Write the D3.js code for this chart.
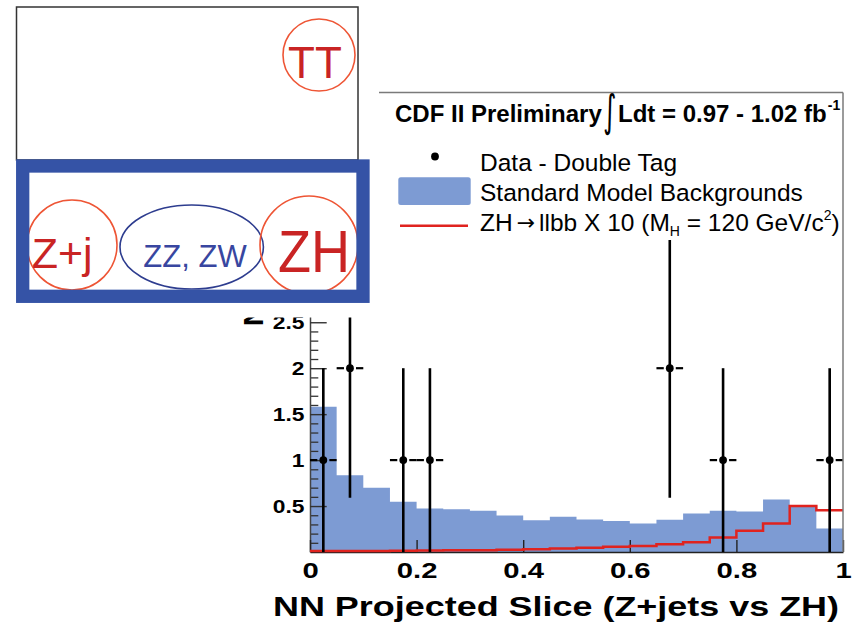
<!DOCTYPE html>
<html>
<head>
<meta charset="utf-8">
<script src="https://cdn.jsdelivr.net/npm/d3@7"></script>
<style>
  html, body { margin: 0; padding: 0; background: #fff; }
  svg { display: block; }
</style>
</head>
<body>
<svg id="chart" width="853" height="631"></svg>
<script>
// ---- data ----
const binEdges = [0, 0.05, 0.1, 0.15, 0.2, 0.25, 0.3, 0.35, 0.4, 0.45, 0.5,
                  0.55, 0.6, 0.65, 0.7, 0.75, 0.8, 0.85, 0.9, 0.95, 1.0];
// Standard Model backgrounds (stacked total), per bin
const background = [1.58, 0.835, 0.70, 0.548, 0.474, 0.464, 0.45, 0.396, 0.345, 0.383,
                    0.355, 0.338, 0.31, 0.35, 0.42, 0.45, 0.44, 0.57, 0.50, 0.256];
// ZH -> llbb signal x 10, per bin
const signal = [0.01, 0.01, 0.012, 0.014, 0.016, 0.018, 0.02, 0.024, 0.03, 0.038,
                0.045, 0.058, 0.066, 0.085, 0.107, 0.157, 0.23, 0.31, 0.50, 0.455];
// double-tag data
const dataX      = [0.025, 0.075, 0.175, 0.225, 0.675, 0.775, 0.975];
const dataY      = [1, 2, 1, 1, 2, 1, 1];
const dataErrLow = [1, 1.41, 1, 1, 1.41, 1, 1];
const dataErrHigh= [1, 1.41, 1, 1, 1.41, 1, 1];
const dataXErr   = [0.025, 0.025, 0.025, 0.025, 0.025, 0.025, 0.025];

const xTickValues = [0, 0.2, 0.4, 0.6, 0.8, 1];
const xTickLabels = ["0", "0.2", "0.4", "0.6", "0.8", "1"];
const yTickValues = [0.5, 1, 1.5, 2, 2.5];
const yTickLabels = ["0.5", "1", "1.5", "2", "2.5"];

const FONT = "'Liberation Sans', Arial, Helvetica, sans-serif";
const BLUE_FILL = "#7d9bd3";
const RED = "#e0231f";

const svg = d3.select("#chart");

const x = d3.scaleLinear().domain([0, 1]).range([310, 843]);
const y = d3.scaleLinear().domain([0, 5]).range([552, 92.5]);

function steps(values) {
  const pts = [];
  values.forEach((v, i) => { pts.push([binEdges[i], v]); pts.push([binEdges[i + 1], v]); });
  return pts;
}

// ---- background histogram ----
svg.append("path")
  .datum(steps(background))
  .attr("d", d3.area().x(d => x(d[0])).y0(y(0)).y1(d => y(d[1])))
  .attr("fill", BLUE_FILL);

// ---- y title (mostly hidden under the diagram panel) ----
svg.append("text")
  .attr("transform", "translate(263,326) rotate(-90)")
  .attr("text-anchor", "start")
  .attr("font-family", FONT).attr("font-weight", "bold").attr("font-size", 28)
  .text("Number of Events");

// ---- y axis: minor ticks ----
const yMinor = d3.range(1, 50).map(i => i / 10).filter(v => Math.round(v * 10) % 5 !== 0);
svg.append("g")
  .attr("transform", `translate(${x(0)},0)`)
  .call(d3.axisLeft(y).tickValues(yMinor).tickSizeInner(-8.3).tickSizeOuter(0).tickFormat(""))
  .call(g => g.select(".domain").remove())
  .call(g => g.selectAll("line").attr("stroke", "#333").attr("stroke-width", 1.3));

// ---- y axis: major ticks + labels ----
svg.append("g")
  .attr("transform", `translate(${x(0)},0)`)
  .call(d3.axisLeft(y).tickValues(yTickValues).tickFormat((d, i) => yTickLabels[i])
        .tickSizeInner(-16.7).tickSizeOuter(0).tickPadding(5.5))
  .call(g => g.select(".domain").attr("stroke", "#444").attr("stroke-width", 1.5))
  .call(g => g.selectAll("line").attr("stroke", "#333").attr("stroke-width", 1.4))
  .call(g => g.selectAll("text")
    .attr("font-family", FONT).attr("font-weight", "bold").attr("font-size", 19)
    .attr("fill", "#000")
    .attr("x", 0)
    .attr("transform", "translate(-5.5,0) scale(1.2,1)"));

// ---- x axis ----
svg.append("g")
  .attr("transform", `translate(0,${y(0)})`)
  .call(d3.axisBottom(x).tickValues(xTickValues).tickFormat((d, i) => xTickLabels[i])
        .tickSizeInner(-12).tickSizeOuter(0).tickPadding(10.5))
  .call(g => g.select(".domain").attr("stroke", "#222").attr("stroke-width", 1.5))
  .call(g => g.selectAll("line").attr("stroke", "#222").attr("stroke-width", 1.4))
  .call(g => g.selectAll("text")
    .attr("font-family", FONT).attr("font-weight", "bold").attr("font-size", 22)
    .attr("fill", "#000")
    .attr("transform", "scale(1.33,1)"));

// x title
svg.append("text")
  .attr("x", 273).attr("y", 615.5)
  .attr("font-family", FONT).attr("font-weight", "bold").attr("font-size", 28)
  .attr("textLength", 566).attr("lengthAdjust", "spacingAndGlyphs")
  .text("NN Projected Slice (Z+jets vs ZH)");

// ---- signal histogram (x10) ----
svg.append("path")
  .datum(steps(signal))
  .attr("d", d3.line().x(d => x(d[0])).y(d => y(d[1])))
  .attr("fill", "none").attr("stroke", RED).attr("stroke-width", 2.5);

// ---- data points with error bars ----
const pts = svg.append("g");
dataX.forEach((cx, i) => {
  const px = x(cx), py = y(dataY[i]);
  pts.append("line")
    .attr("x1", px).attr("x2", px)
    .attr("y1", y(dataY[i] - dataErrLow[i])).attr("y2", y(dataY[i] + dataErrHigh[i]))
    .attr("stroke", "#000").attr("stroke-width", 2.6);
  pts.append("line")
    .attr("x1", x(cx - dataXErr[i])).attr("x2", px - 6)
    .attr("y1", py).attr("y2", py)
    .attr("stroke", "#000").attr("stroke-width", 2.2);
  pts.append("line")
    .attr("x1", px + 6).attr("x2", x(cx + dataXErr[i]))
    .attr("y1", py).attr("y2", py)
    .attr("stroke", "#000").attr("stroke-width", 2.2);
  pts.append("circle").attr("cx", px).attr("cy", py).attr("r", 3.9).attr("fill", "#000");
});

// ---- legend ----
svg.append("rect").attr("x", 379).attr("y", 94).attr("width", 463).attr("height", 146).attr("fill", "#fff");
svg.append("clipPath").attr("id", "legclip")
  .append("rect").attr("x", 379).attr("y", 60).attr("width", 463.5).attr("height", 190);
const leg = svg.append("g").attr("clip-path", "url(#legclip)")
  .attr("font-family", FONT).attr("fill", "#000");

leg.append("text").attr("x", 395).attr("y", 121.5)
  .attr("font-weight", "bold").attr("font-size", 24).text("CDF II Preliminary");
leg.append("text").attr("transform", "translate(610,126) scale(0.75,1.3)")
  .attr("text-anchor", "middle")
  .attr("font-family", "'DejaVu Sans', sans-serif").attr("font-size", 34).text("∫");
const lum = leg.append("text").attr("x", 618).attr("y", 121.5)
  .attr("font-weight", "bold").attr("font-size", 24);
lum.append("tspan").text("Ldt = 0.97 - 1.02 fb");
lum.append("tspan").attr("font-size", 14).attr("dy", -12).attr("dx", 1).text("-1");

leg.append("circle").attr("cx", 435).attr("cy", 156.5).attr("r", 3.9).attr("fill", "#000");
leg.append("text").attr("x", 480).attr("y", 170.5).attr("font-size", 24.5).text("Data - Double Tag");

leg.append("rect").attr("x", 398.3).attr("y", 177.3).attr("width", 72.4).attr("height", 27.7)
  .attr("rx", 2.5).attr("fill", BLUE_FILL);
leg.append("text").attr("x", 480).attr("y", 201).attr("font-size", 24.5).text("Standard Model Backgrounds");

leg.append("line").attr("x1", 400).attr("x2", 468).attr("y1", 225.7).attr("y2", 225.7)
  .attr("stroke", RED).attr("stroke-width", 2.5);
const sig = leg.append("text").attr("x", 480).attr("y", 231).attr("font-size", 24.5);
sig.append("tspan").text("ZH");
sig.append("tspan").attr("font-family", "'DejaVu Sans', sans-serif").attr("font-size", 22)
  .attr("dy", -1).attr("dx", 4).text("→");
sig.append("tspan").attr("dy", 1).attr("dx", 4).text("llbb X 10 (M");
sig.append("tspan").attr("font-size", 14).attr("dy", 5).text("H");
sig.append("tspan").attr("dy", -5).text(" = 120 GeV/c");
sig.append("tspan").attr("font-size", 14).attr("dy", -11).text("2");
sig.append("tspan").attr("dy", 11).text(")");

// ---- frame ----
svg.append("line").attr("x1", 843).attr("x2", 843).attr("y1", 92.5).attr("y2", 552)
  .attr("stroke", "#7a7a7a").attr("stroke-width", 1.5);
svg.append("line").attr("x1", 310).attr("x2", 843).attr("y1", 92.5).attr("y2", 92.5)
  .attr("stroke", "#7a7a7a").attr("stroke-width", 1.5);

// ---- diagram panel (top left) ----
const panel = svg.append("g").attr("font-family", FONT);
panel.append("rect").attr("x", 0).attr("y", 0).attr("width", 379).attr("height", 317.5).attr("fill", "#fff");
panel.append("rect").attr("x", 16.5).attr("y", 7).attr("width", 341.5).attr("height", 153)
  .attr("fill", "none").attr("stroke", "#333").attr("stroke-width", 1.5);
panel.append("circle").attr("cx", 319).attr("cy", 55).attr("r", 36)
  .attr("fill", "none").attr("stroke", "#ee5535").attr("stroke-width", 1.6);
panel.append("text").attr("x", 315).attr("y", 78).attr("text-anchor", "middle")
  .attr("font-size", 44).attr("fill", "#c92424").text("TT");

panel.append("clipPath").attr("id", "boxclip")
  .append("rect").attr("x", 16).attr("y", 159.5).attr("width", 353.5).attr("height", 143);
const inner = panel.append("g").attr("clip-path", "url(#boxclip)");
inner.append("circle").attr("cx", 72).attr("cy", 245).attr("r", 45)
  .attr("fill", "none").attr("stroke", "#ee5535").attr("stroke-width", 1.6);
inner.append("ellipse").attr("cx", 191.7).attr("cy", 247).attr("rx", 71.7).attr("ry", 42)
  .attr("fill", "none").attr("stroke", "#2e3d8f").attr("stroke-width", 1.6);
inner.append("circle").attr("cx", 309).attr("cy", 245).attr("r", 49)
  .attr("fill", "none").attr("stroke", "#ee5535").attr("stroke-width", 1.6);
inner.append("text").attr("x", 31.7).attr("y", 268)
  .attr("font-size", 43).attr("fill", "#c92424").text("Z+j");
inner.append("text").attr("x", 195).attr("y", 266.7).attr("text-anchor", "middle")
  .attr("font-size", 31).attr("fill", "#3846a0").text("ZZ, ZW");
inner.append("text").attr("x", 278).attr("y", 271.7)
  .attr("font-size", 60).attr("fill", "#c92424")
  .attr("textLength", 72).attr("lengthAdjust", "spacingAndGlyphs").text("ZH");
panel.append("rect").attr("x", 22.7).attr("y", 166).attr("width", 340.3).attr("height", 130.3)
  .attr("fill", "none").attr("stroke", "#3553a6").attr("stroke-width", 13.3);
</script>
</body>
</html>
